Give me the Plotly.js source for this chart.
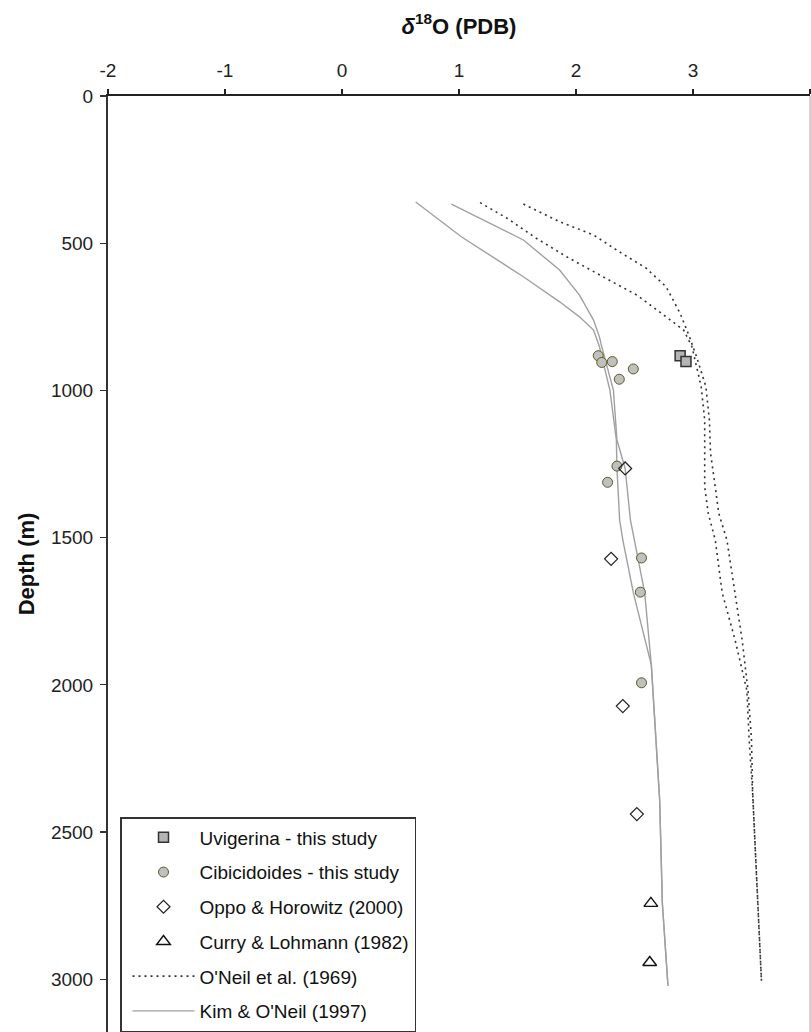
<!DOCTYPE html>
<html>
<head>
<meta charset="utf-8">
<script src="https://cdn.plot.ly/plotly-3.0.1.min.js"></script>
<style>
  html, body { margin: 0; padding: 0; background: #ffffff; overflow: hidden; }
  #chart { width: 811px; height: 1032px; }
</style>
</head>
<body>
<div id="chart"></div>
<script>
// ---- data ----
var uvigX = [2.89, 2.94];
var uvigDepth = [882, 902];

var cibX = [2.19, 2.22, 2.31, 2.49, 2.37, 2.35, 2.27, 2.56, 2.55, 2.56];
var cibDepth = [882, 905, 902, 927, 962, 1257, 1312, 1569, 1685, 1993];

var oppoX = [2.42, 2.30, 2.40, 2.52];
var oppoDepth = [1265, 1572, 2072, 2439];

var curryX = [2.64, 2.63];
var curryDepth = [2742, 2943];

// O'Neil et al. (1969) — two profiles
var oneilAX = [1.18, 1.41, 1.66, 1.92, 2.23, 2.52, 2.77, 2.92, 2.99, 3.07, 3.10, 3.10, 3.10, 3.13, 3.19, 3.25, 3.36, 3.46, 3.48, 3.51, 3.53, 3.56, 3.585];
var oneilADepth = [362, 415, 483, 546, 614, 676, 750, 795, 850, 987, 1100, 1213, 1327, 1417, 1508, 1688, 1848, 2018, 2187, 2368, 2550, 2776, 3005];
var oneilBX = [1.55, 1.86, 2.15, 2.37, 2.60, 2.77, 2.89, 2.97, 3.03, 3.11, 3.14, 3.15, 3.19, 3.22, 3.29, 3.36, 3.42, 3.47, 3.50, 3.51, 3.53, 3.56, 3.585];
var oneilBDepth = [367, 427, 472, 529, 585, 648, 738, 818, 885, 987, 1100, 1213, 1327, 1417, 1508, 1688, 1848, 2018, 2187, 2368, 2550, 2776, 3005];

// Kim & O'Neil (1997) — two profiles
var kimAX = [0.63, 1.02, 1.55, 1.86, 2.03, 2.15, 2.20, 2.29, 2.345, 2.35, 2.373, 2.40, 2.49, 2.644, 2.715, 2.738, 2.786];
var kimADepth = [360, 478, 614, 699, 750, 795, 851, 1000, 1168, 1265, 1440, 1508, 1687, 1933, 2391, 2742, 3022];
var kimBX = [0.935, 1.55, 1.86, 2.03, 2.15, 2.20, 2.22, 2.32, 2.35, 2.42, 2.465, 2.50, 2.587, 2.644, 2.715, 2.738, 2.786];
var kimBDepth = [367, 489, 591, 676, 761, 818, 851, 1000, 1168, 1265, 1440, 1508, 1687, 1933, 2391, 2742, 3022];

var xTickVals = [-2, -1, 0, 1, 2, 3, 4];
var yTickVals = [0, 500, 1000, 1500, 2000, 2500, 3000];

var names = ["Uvigerina - this study", "Cibicidoides - this study", "Oppo & Horowitz (2000)",
             "Curry & Lohmann (1982)", "O'Neil et al. (1969)", "Kim & O'Neil (1997)"];

var FONT = "Liberation Sans, Arial, sans-serif";
var dotLine = {color: '#333333', width: 1.6, dash: '2px,4px'};
var kimLine = {color: '#a0a0a0', width: 1.4};

var traces = [
  {x: uvigX, y: uvigDepth, type: 'scatter', mode: 'markers', name: names[0], legendgroup: 'g0',
   marker: {symbol: 'square', size: 10, color: '#b4b4b4', line: {color: '#333333', width: 1.5}}},
  {x: cibX, y: cibDepth, type: 'scatter', mode: 'markers', name: names[1], legendgroup: 'g1',
   marker: {symbol: 'circle', size: 10, color: '#c0c0c0', line: {color: '#5a5a20', width: 1}}},
  {x: oppoX, y: oppoDepth, type: 'scatter', mode: 'markers', name: names[2], legendgroup: 'g2',
   marker: {symbol: 'diamond-open', size: 10, color: '#222222', line: {width: 1.2}}},
  {x: curryX, y: curryDepth, type: 'scatter', mode: 'markers', name: names[3], legendgroup: 'g3',
   marker: {symbol: 'triangle-up-open', size: 12, color: '#111111', line: {width: 1.4}}},
  {x: oneilAX, y: oneilADepth, type: 'scatter', mode: 'lines', name: names[4], legendgroup: 'g4',
   line: dotLine},
  {x: oneilBX, y: oneilBDepth, type: 'scatter', mode: 'lines', name: names[4], legendgroup: 'g4',
   showlegend: false, line: dotLine},
  {x: kimAX, y: kimADepth, type: 'scatter', mode: 'lines', name: names[5], legendgroup: 'g5',
   line: kimLine},
  {x: kimBX, y: kimBDepth, type: 'scatter', mode: 'lines', name: names[5], legendgroup: 'g5',
   showlegend: false, line: kimLine}
];

// draw lines beneath markers
traces = [traces[4], traces[5], traces[6], traces[7], traces[0], traces[1], traces[2], traces[3]];

var layout = {
  width: 811, height: 1032,
  margin: {l: 108, r: 1, t: 96, b: 0, pad: 0},
  paper_bgcolor: '#ffffff', plot_bgcolor: '#ffffff',
  font: {family: FONT, size: 19, color: '#222222'},
  showlegend: true,
  xaxis: {
    side: 'top', range: [-2, 4], tickvals: xTickVals, ticktext: xTickVals.map(String),
    showgrid: false, zeroline: false, showline: true, linecolor: '#222222', linewidth: 2,
    ticks: 'outside', ticklen: 5, tickwidth: 1.2, tickcolor: '#222222', ticklabelstandoff: 4,
    tickfont: {family: FONT, size: 19, color: '#222222'},
    title: {text: '<b><i>δ</i><sup>18</sup>O (PDB)</b>', font: {family: FONT, size: 22, color: '#111111'}, standoff: 20},
    fixedrange: true
  },
  yaxis: {
    range: [3179, 0], tickvals: yTickVals, ticktext: yTickVals.map(String),
    showgrid: false, zeroline: false, showline: true, linecolor: '#333333', linewidth: 2,
    ticks: 'outside', ticklen: 6, tickwidth: 1.2, tickcolor: '#333333', ticklabelstandoff: 3,
    tickfont: {family: FONT, size: 19, color: '#222222'},
    title: {text: '<b>Depth (m)</b>', font: {family: FONT, size: 22, color: '#111111'}, standoff: 10},
    fixedrange: true
  },
  legend: {
    x: 0.0171, y: 0.2295, xanchor: 'left', yanchor: 'top',
    bgcolor: '#ffffff', bordercolor: '#333333', borderwidth: 1.5,
    font: {family: FONT, size: 19, color: '#111111'},
    traceorder: 'grouped', tracegroupgap: 7, itemwidth: 62, indentation: 6
  },
  shapes: [
    {type: 'line', xref: 'paper', yref: 'paper', x0: 1, x1: 1, y0: 0, y1: 1,
     line: {color: '#a8a8a8', width: 1}}
  ]
};

// legend order as in reference
var order = ['g0', 'g1', 'g2', 'g3', 'g4', 'g5'];
traces.forEach(function (t) { t.legendrank = order.indexOf(t.legendgroup) + 1; });

Plotly.newPlot('chart', traces, layout, {staticPlot: true, displayModeBar: false});
</script>
</body>
</html>
